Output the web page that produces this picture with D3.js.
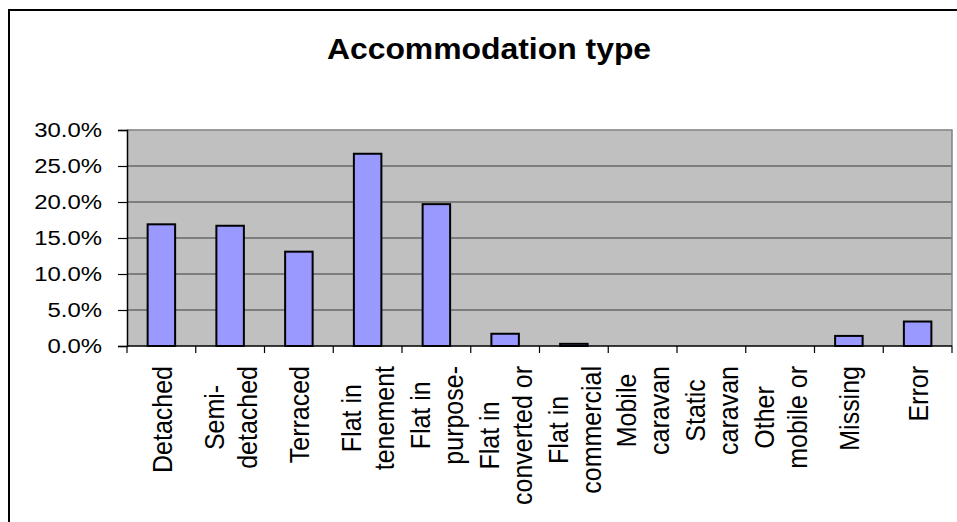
<!DOCTYPE html>
<html>
<head>
<meta charset="utf-8">
<script src="https://cdn.jsdelivr.net/npm/d3@7"></script>
<style>
  html, body { margin: 0; padding: 0; background: #fff; }
  svg { display: block; font-family: "Liberation Sans", Arial, sans-serif; }
</style>
</head>
<body>
<svg id="chart" width="957" height="522"></svg>
<script>
const categories = ["Detached","Semi-detached","Terraced","Flat in tenement","Flat in purpose-built","Flat in converted or","Flat in commercial","Mobile caravan","Static caravan","Other mobile or","Missing","Error"];
const labelLines = [["Detached"],["Semi-","detached"],["Terraced"],["Flat in","tenement"],["Flat in","purpose-"],["Flat in","converted or"],["Flat in","commercial"],["Mobile","caravan"],["Static","caravan"],["Other","mobile or"],["Missing"],["Error"]];
const values = [16.9, 16.7, 13.1, 26.7, 19.7, 1.7, 0.3, 0, 0, 0, 1.4, 3.4];
const yTicks = [0, 5, 10, 15, 20, 25, 30];
const title = "Accommodation type";

const stretch = 1.14; // reference glyphs are horizontally widened
const titleStretch = 1.1;
const svg = d3.select("#chart");
const plot = {left: 127, right: 952, top: 130, bottom: 346};

// outer chart frame
svg.append("rect").attr("x", 9).attr("y", 10).attr("width", 1000).attr("height", 600)
  .attr("fill", "#fff").attr("stroke", "#000").attr("stroke-width", 2);

svg.append("g").attr("transform", `translate(489,59) scale(${titleStretch},1)`)
  .append("text").attr("x", 0).attr("y", 0).attr("text-anchor", "middle")
  .attr("font-size", 29).attr("font-weight", "bold").attr("fill", "#000").text(title);

const x = d3.scaleBand().domain(categories).range([plot.left, plot.right]).padding(0);
const y = d3.scaleLinear().domain([0, 30]).range([plot.bottom, plot.top]);

// plot area
svg.append("rect").attr("x", plot.left).attr("y", plot.top)
  .attr("width", plot.right - plot.left).attr("height", plot.bottom - plot.top)
  .attr("fill", "#C0C0C0");

// gridlines
svg.append("g").selectAll("line").data(yTicks.filter(t => t > 0 && t < 30)).join("line")
  .attr("x1", plot.left).attr("x2", plot.right)
  .attr("y1", d => y(d)).attr("y2", d => y(d))
  .attr("stroke", "#3a3a3a").attr("stroke-width", 1.2);

// top & right border
svg.append("path")
  .attr("d", `M${plot.left},${y(30)}H${plot.right}V${plot.bottom}`)
  .attr("fill", "none").attr("stroke", "#808080").attr("stroke-width", 1.5);

// bars
const bw = x.step() * 0.4;
svg.append("g").selectAll("rect").data(categories.map((c, i) => ({c, v: values[i]})).filter(d => d.v > 0)).join("rect")
  .attr("x", d => x(d.c) + (x.step() - bw) / 2)
  .attr("width", bw)
  .attr("y", d => y(d.v))
  .attr("height", d => y(0) - y(d.v))
  .attr("fill", "#9999FF").attr("stroke", "#000").attr("stroke-width", 2);

// y axis
const yAxis = d3.axisLeft(y).tickValues(yTicks).tickSize(9).tickPadding(15)
  .tickFormat(d => d.toFixed(1) + "%");
const gy = svg.append("g").attr("transform", `translate(${plot.left},0)`).call(yAxis);
gy.select(".domain").attr("stroke", "#000").attr("stroke-width", 1.5);
gy.selectAll(".tick line").attr("stroke", "#000").attr("stroke-width", 1.2);
gy.selectAll(".tick text").attr("font-size", 21).attr("fill", "#000")
  .attr("font-family", "'Liberation Sans', Arial, sans-serif")
  .attr("x", 0).attr("transform", `translate(-25,0) scale(${stretch},1)`);

// x axis line and boundary ticks
svg.append("line").attr("x1", plot.left).attr("x2", plot.right)
  .attr("y1", plot.bottom).attr("y2", plot.bottom)
  .attr("stroke", "#000").attr("stroke-width", 1.5);
const bounds = categories.map(c => x(c)).concat([x(categories[categories.length - 1]) + x.step()]);
svg.append("g").selectAll("line").data(bounds).join("line")
  .attr("x1", d => d).attr("x2", d => d)
  .attr("y1", plot.bottom).attr("y2", plot.bottom + 7)
  .attr("stroke", "#000").attr("stroke-width", 1.2);

// x labels (rotated, wrapped, block top-aligned below the axis)
const lineGap = 33 / stretch;
const labelTop = 366;
categories.forEach((c, i) => {
  const lines = labelLines[i];
  const g = svg.append("g");
  const t = g.append("text").attr("font-size", 25).attr("fill", "#000").attr("text-anchor", "middle");
  lines.forEach((ln, j) => {
    t.append("tspan").attr("x", 0)
      .attr("y", j * lineGap - (lines.length - 1) * lineGap / 2)
      .attr("dy", "0.36em").text(ln);
  });
  let maxW = 0;
  t.selectAll("tspan").each(function() { maxW = Math.max(maxW, this.getComputedTextLength()); });
  const cx = x(c) + x.step() / 2;
  const cy = labelTop + maxW / 2;
  g.attr("transform", `translate(${cx},${cy}) rotate(-90) scale(1,${stretch})`);
});
</script>
</body>
</html>
